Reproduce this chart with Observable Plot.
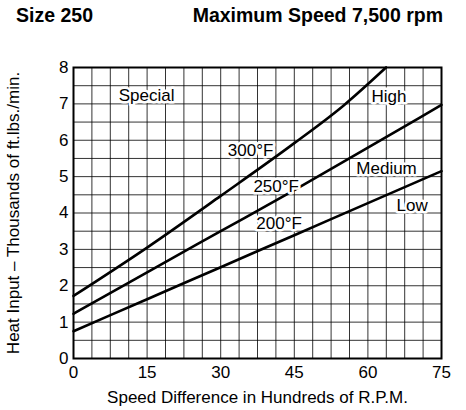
<!DOCTYPE html>
<html>
<head>
<meta charset="utf-8">
<script src="https://cdn.jsdelivr.net/npm/d3@7"></script>
<script src="https://cdn.jsdelivr.net/npm/@observablehq/plot@0.6"></script>
<style>
  html, body { margin: 0; padding: 0; background: #fff; }
  #wrap { position: relative; width: 466px; height: 410px; font-family: "Liberation Sans", Arial, sans-serif; }
  .t { position: absolute; top: 4px; font-weight: bold; font-size: 19.5px; line-height: 1.15; color: #000; white-space: nowrap; }
  #chart { position: absolute; left: 0; top: 30px; }
</style>
</head>
<body>
<div id="wrap">
  <div class="t" style="left:16px">Size 250</div>
  <div class="t" style="right:23px">Maximum Speed 7,500 rpm</div>
  <div id="chart"></div>
</div>
<script>
// Curves (x = speed difference, hundreds of RPM; y = heat input, thousands ft.lbs./min.)
const x300 = [0, 15, 30, 45, 55, 63.7];
const y300 = [1.72, 3.05, 4.47, 5.92, 6.95, 8.0];
const x250 = [0, 15, 30, 45, 60, 75];
const y250 = [1.23, 2.37, 3.5, 4.63, 5.8, 6.97];
const x200 = [0, 15, 30, 45, 60, 75];
const y200 = [0.75, 1.63, 2.51, 3.39, 4.27, 5.15];

// Annotation labels
const labelText = ["Special", "High", "Medium", "Low", "300°F", "250°F", "200°F"];
const labelX = [14.9, 64.3, 63.8, 69, 36.1, 41.3, 41.9];
const labelY = [7.22, 7.2, 5.22, 4.2, 5.71, 4.72, 3.71];

const xTicks = [0, 15, 30, 45, 60, 75];
const yTicks = [0, 1, 2, 3, 4, 5, 6, 7, 8];

const curves = [
  ...x300.map((x, i) => ({series: "300", x, y: y300[i]})),
  ...x250.map((x, i) => ({series: "250", x, y: y250[i]})),
  ...x200.map((x, i) => ({series: "200", x, y: y200[i]}))
];
const labels = labelText.map((t, i) => ({t, x: labelX[i], y: labelY[i]}));

const chart = Plot.plot({
  width: 466,
  height: 380,
  marginTop: 37,
  marginBottom: 52,
  marginLeft: 73,
  marginRight: 25,
  style: {fontFamily: "'Liberation Sans', Arial, sans-serif", fontSize: "17px", color: "#000", background: "#fff"},
  x: {domain: [0, 75]},
  y: {domain: [0, 8]},
  marks: [
    Plot.gridX(d3.range(0, 75.001, 3.75), {stroke: "#000", strokeOpacity: 0.8, strokeWidth: 1}),
    Plot.gridY(d3.range(0, 8.001, 0.5), {stroke: "#000", strokeOpacity: 0.8, strokeWidth: 1}),
    Plot.axisX(xTicks, {tickSize: 0, tickPadding: 7, label: "Speed Difference in Hundreds of R.P.M.", labelAnchor: "center", labelArrow: "none", labelOffset: 44, fontSize: 17}),
    Plot.axisY(yTicks, {tickSize: 0, tickPadding: 5, label: "Heat Input – Thousands of ft.lbs./min.", labelAnchor: "center", labelArrow: "none", labelOffset: 67, fontSize: 17}),
    Plot.line(curves, {x: "x", y: "y", z: "series", curve: "monotone-x", stroke: "#000", strokeWidth: 2.6}),
    Plot.text(labels, {x: "x", y: "y", text: "t", fill: "#000", stroke: "#fff", strokeWidth: 5, fontSize: 17}),
    Plot.frame({stroke: "#000", strokeWidth: 2})
  ]
});
document.getElementById("chart").appendChild(chart);
</script>
</body>
</html>
